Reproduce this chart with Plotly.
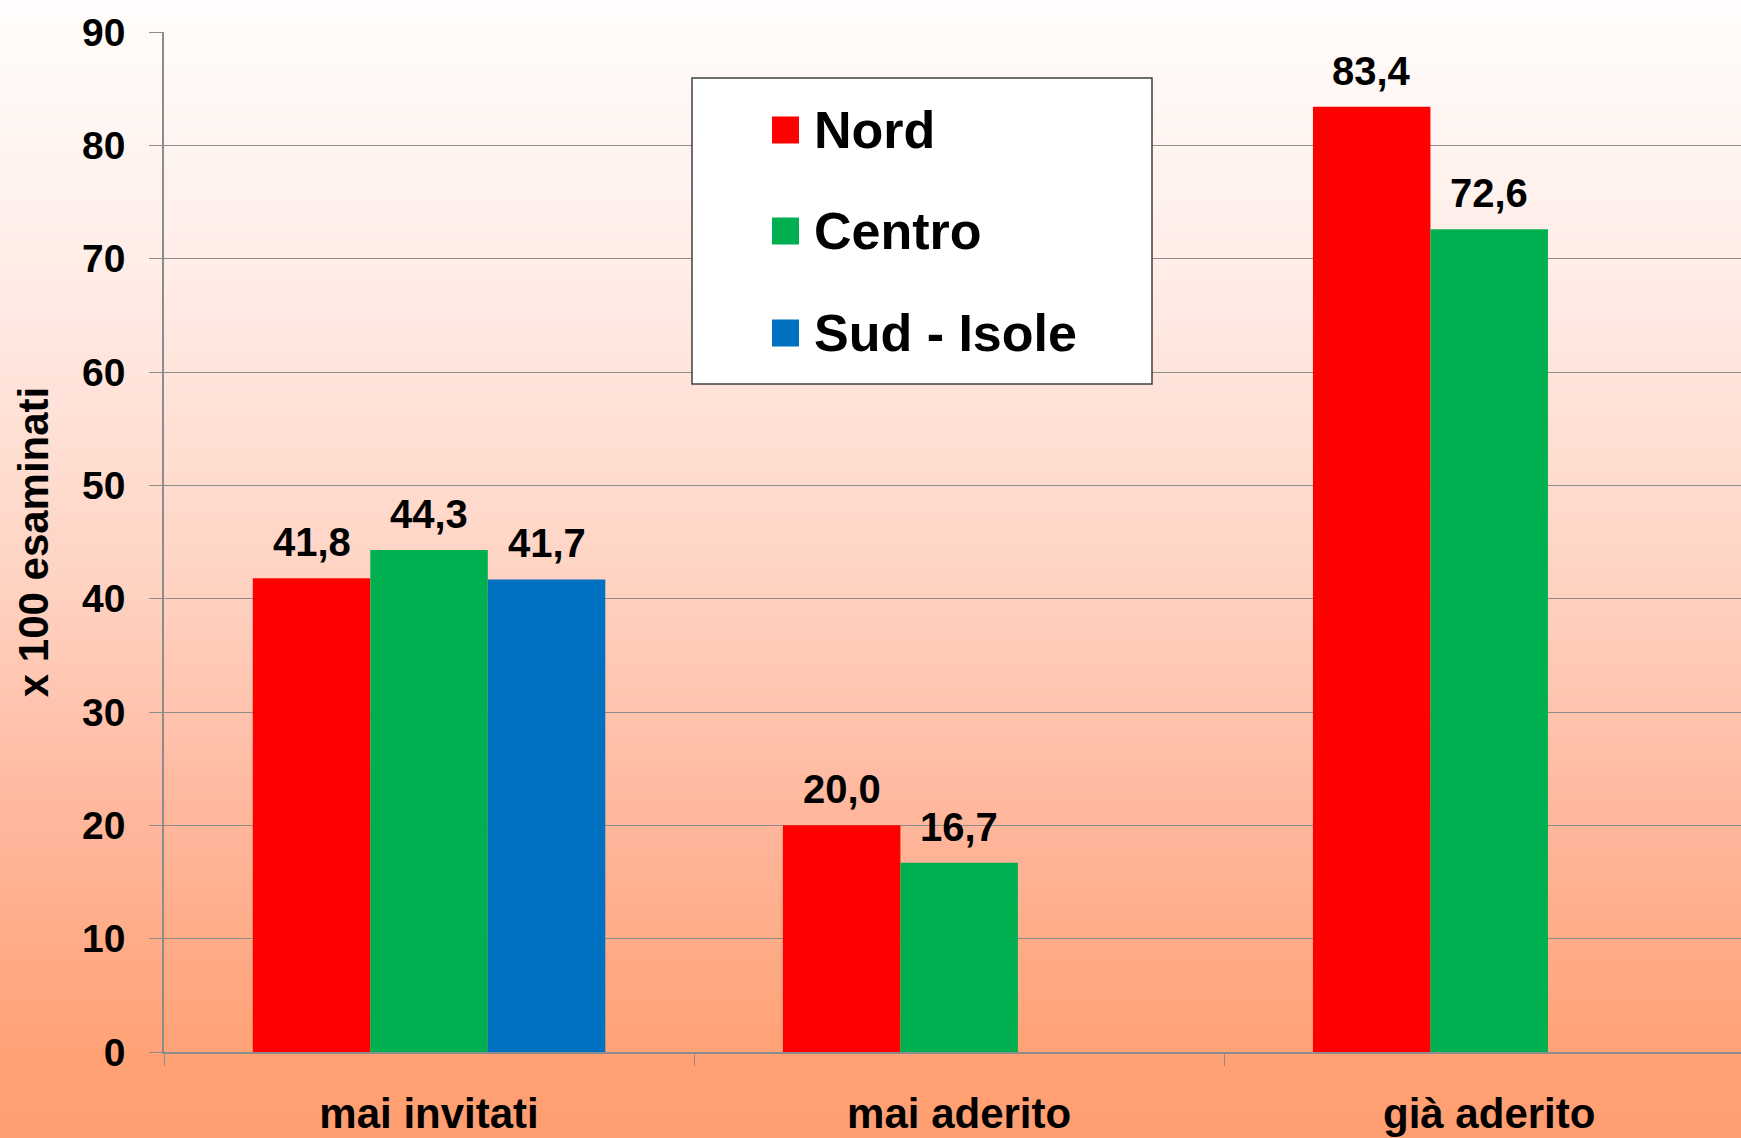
import plotly.graph_objects as go

# Dati (x 100 esaminati)
categorie = ["mai invitati", "mai aderito", "già aderito"]
nord = [41.8, 20.0, 83.4]
centro = [44.3, 16.7, 72.6]
sud_isole = [41.7, None, None]
serie_nomi = ["Nord", "Centro", "Sud - Isole"]
serie_valori = [nord, centro, sud_isole]
y_ticks = [0, 10, 20, 30, 40, 50, 60, 70, 80, 90]

colori = ["#FF0000", "#00B050", "#0070C0"]
FONT = "Arial, Liberation Sans, sans-serif"

W, H = 1741, 1138
M_L, M_R, M_T, M_B = 164, 0, 32, 86
PW, PH = W - M_L - M_R, H - M_T - M_B
BARGAP = 0.335


def px_x(v):
    # pixel -> coordinata paper (x)
    return (v - M_L) / PW


def px_y(v):
    # pixel -> coordinata paper (y)
    return (H - M_B - v) / PH


def hex_rgb(h):
    h = h.lstrip("#")
    return tuple(int(h[i:i + 2], 16) for i in (0, 2, 4))


fig = go.Figure()

for nome, valori, colore in zip(serie_nomi, serie_valori, colori):
    fig.add_trace(go.Bar(
        x=categorie,
        y=valori,
        name=nome,
        marker=dict(color=colore, line=dict(width=0)),
        showlegend=False,
        hoverinfo="x+y+name",
    ))

# Etichette dei valori sopra le barre
bar_w = (1 - BARGAP) / len(serie_nomi)
for i, valori in enumerate(serie_valori):
    for j, v in enumerate(valori):
        if v is None:
            continue
        fig.add_annotation(
            x=j + (i - 1) * bar_w, y=v, xref="x", yref="y",
            text=f"{v:.1f}".replace(".", ","),
            showarrow=False, yanchor="bottom", yshift=12,
            font=dict(family=FONT, size=40, color="black", weight="bold"),
        )

# Sfondo sfumato (bianco -> salmone)
stops = [(0.0, "#FFFDFC"), (0.27, "#FFEAE3"), (0.5, "#FFD4C4"),
         (0.71, "#FFB89E"), (0.93, "#FFA175"), (1.0, "#FF9E70")]
n_strisce = 190
shapes = []
for k in range(n_strisce):
    t = (k + 0.5) / n_strisce
    for (a, ca), (b, cb) in zip(stops[:-1], stops[1:]):
        if a <= t <= b:
            f = (t - a) / (b - a)
            r1, g1, b1 = hex_rgb(ca)
            r2, g2, b2 = hex_rgb(cb)
            col = "rgb({},{},{})".format(round(r1 + (r2 - r1) * f), round(g1 + (g2 - g1) * f), round(b1 + (b2 - b1) * f))
            break
    y_top = H * k / n_strisce
    y_bot = H * (k + 1) / n_strisce + 1
    shapes.append(dict(type="rect", xref="paper", yref="paper", layer="below",
                       x0=px_x(0), x1=px_x(W), y0=px_y(y_bot), y1=px_y(y_top),
                       fillcolor=col, line=dict(width=0)))

# Legenda disegnata a mano (quadrati grandi come nell'originale)
shapes.append(dict(type="rect", xref="paper", yref="paper", layer="above",
                   x0=px_x(692), x1=px_x(1152), y0=px_y(384), y1=px_y(78),
                   fillcolor="white", line=dict(color="#404040", width=1.5)))
righe_y = [130, 231, 333]
for nome, colore, ry in zip(serie_nomi, colori, righe_y):
    shapes.append(dict(type="rect", xref="paper", yref="paper", layer="above",
                       x0=px_x(772), x1=px_x(799), y0=px_y(ry + 13.5), y1=px_y(ry - 13.5),
                       fillcolor=colore, line=dict(width=0)))
    fig.add_annotation(
        x=px_x(812), y=px_y(ry), xref="paper", yref="paper",
        text=nome, showarrow=False, xanchor="left", yanchor="middle",
        font=dict(family=FONT, size=52, color="black", weight="bold"),
    )

fig.update_layout(
    width=W, height=H,
    margin=dict(l=M_L, r=M_R, t=M_T, b=M_B, pad=0),
    barmode="group",
    bargap=BARGAP,
    bargroupgap=0,
    paper_bgcolor="#FFFDFC",
    plot_bgcolor="rgba(0,0,0,0)",
    shapes=shapes,
    font=dict(family=FONT, color="black"),
    xaxis=dict(
        range=[-0.5, 2.475],
        tickson="boundaries",
        ticks="outside", ticklen=12, tickcolor="#8C8C8C", tickwidth=1,
        showline=True, linecolor="#8C8C8C", linewidth=1.5,
        showgrid=False,
        tickfont=dict(family=FONT, size=42, color="black", weight="bold"),
        ticklabelstandoff=24,
    ),
    yaxis=dict(
        range=[0, 90],
        tickvals=y_ticks,
        ticks="outside", ticklen=13, tickcolor="#8C8C8C", tickwidth=1,
        showline=True, linecolor="#8C8C8C", linewidth=1.5,
        showgrid=True, gridcolor="#8C8C8C", gridwidth=1,
        zeroline=False,
        tickfont=dict(family=FONT, size=39, color="black", weight="bold"),
        ticklabelstandoff=16,
        title=dict(text="x 100 esaminati", standoff=20,
                   font=dict(family=FONT, size=42, color="black", weight="bold")),
    ),
)

# niente margine bianco attorno al grafico
fig.write_html(
    "out.html",
    config={"displayModeBar": False},
    post_script="document.body.style.margin='0';document.body.style.overflow='hidden';",
)
